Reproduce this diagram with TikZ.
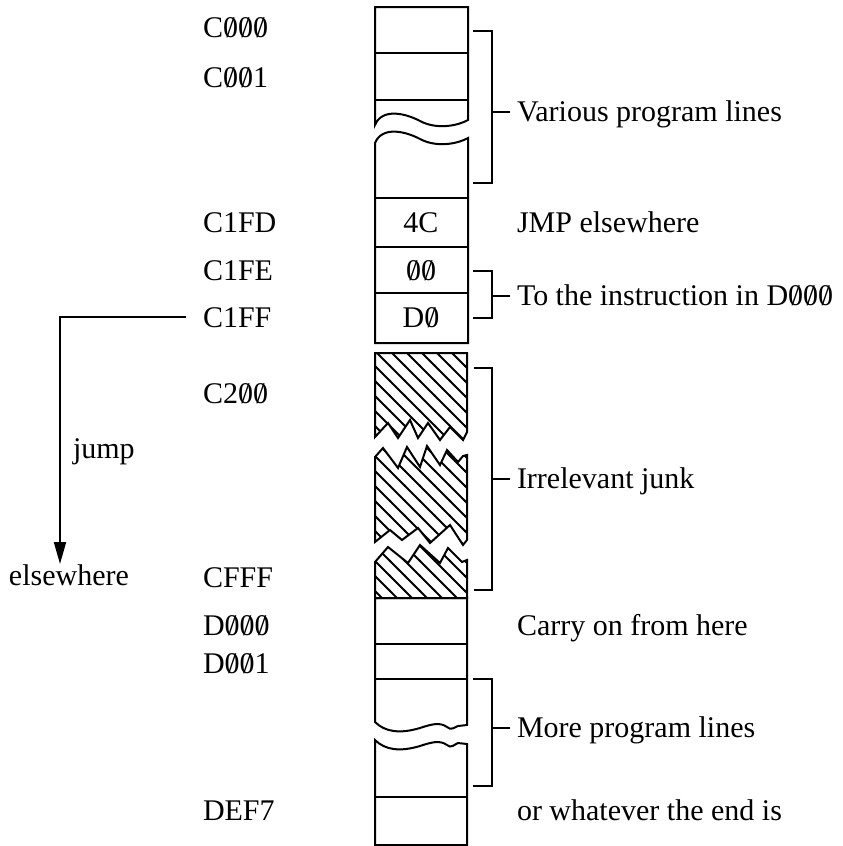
\documentclass[tikz,border=0pt]{standalone}
\usepackage{fontspec}
\setmainfont{Liberation Serif}
\usetikzlibrary{arrows.meta,positioning,patterns.meta}

\newcommand{\sz}{\ooalign{0\cr\hidewidth/\hidewidth\cr}}

\tikzdeclarepattern{
  name=junklines,
  type=uncolored,
  bounding box={(-.5pt,-.5pt) and (8pt,8pt)},
  tile size={(7.5pt,7.5pt)},
  code={\draw[line width=1pt] (-.5pt,8pt) -- (8pt,-.5pt);}
}

\begin{document}
\begin{tikzpicture}[x=0.5pt, y=-0.5pt, line width=1pt,
    addr/.style={anchor=base west, inner sep=0pt, font=\fontsize{15}{18}\selectfont},
    note/.style={addr},
    byte/.style={anchor=base, inner sep=0pt, font=\fontsize{15}{18}\selectfont},
    stub/.style={shorten >=3pt}]
    \useasboundingbox (0,0) rectangle (842,846);

    % First program block, broken by a wavy gap
    \draw (375,125) -- (375,7) -- (468,7) -- (468,120)
        .. controls (455,127) and (435,129) .. (420,121)
        .. controls (405,113) and (382,108) .. cycle;
    \draw (375,53) -- (468,53);
    \draw (375,100) -- (468,100);
    \draw (375,143) -- (375,343) -- (468,343) -- (468,138)
        .. controls (455,145) and (435,147) .. (420,139)
        .. controls (405,131) and (382,126) .. cycle;
    \draw (375,198) -- (468,198);
    \draw (375,247) -- (468,247);
    \draw (375,293) -- (468,293);

    % Hatched junk in three pieces
    \draw[pattern=junklines] (375,353) -- (467,353) -- (467,432) -- (463,440) -- (450,427)
        -- (440,440) -- (428,423) -- (418,438) -- (410,420) -- (398,438)
        -- (388,423) -- (375,437) -- cycle;
    \draw[pattern=junklines] (375,457) -- (383,448) -- (398,468) -- (407,447) -- (420,467)
        -- (427,446) -- (440,465) -- (447,450) -- (458,462) -- (463,456)
        -- (467,455) -- (467,540) -- (463,545) -- (450,525) -- (430,543)
        -- (418,528) -- (402,540) -- (390,530) -- (375,542) -- cycle;
    \draw[pattern=junklines] (375,562) -- (388,547) -- (408,563) -- (420,545) -- (440,563)
        -- (448,548) -- (462,562) -- (467,560) -- (467,598) -- (375,598) -- cycle;

    % Second program block
    \draw (375,722) -- (375,598) -- (467,598) -- (467,725) -- (458,726)
        .. controls (455,727) and (451,731) .. (447,727)
        .. controls (440,722) and (432,724) .. (420,728)
        .. controls (400,734) and (385,732) .. cycle;
    \draw (375,644) -- (467,644);
    \draw (375,679) -- (467,679);
    \draw (375,740) -- (375,845) -- (467,845) -- (467,744) -- (458,743)
        .. controls (455,744) and (451,749) .. (447,745)
        .. controls (440,740) and (432,742) .. (420,746)
        .. controls (400,752) and (385,750) .. cycle;
    \draw (375,797) -- (467,797);

    % Bytes in the cells
    \node[byte] (b4c) at (421,232) {4C};
    \node[byte] (b00) at (421,280) {\sz\sz};
    \node[byte] (bd0) at (421,327) {D\sz};

    % Addresses
    \node[addr] (c000) at (202,37) {C\sz\sz\sz};
    \node[addr] (c001) at (202,87) {C\sz\sz1};
    \node[addr] (c1fd) at (202,232) {C1FD};
    \node[addr] (c1fe) at (202,280) {C1FE};
    \node[addr] (c1ff) at (202,327) {C1FF};
    \node[addr] (c200) at (202,403) {C2\sz\sz};
    \node[addr] (cfff) at (202,587) {CFFF};
    \node[addr] (d000) at (202,635) {D\sz\sz\sz};
    \node[addr] (d001) at (202,673) {D\sz\sz1};
    \node[addr] (def7) at (202,820) {DEF7};

    % Jump away
    \node[addr] (jump) at (72,458) {jump};
    \node[addr] (away) at (8,585) {elsewhere};
    \coordinate (tip) at (60,564);
    \draw[-{Triangle[length=11pt,width=6pt]}, shorten <=8pt] (c1ff.west) -| (tip);

    % Notes on the right
    \node[note] (vpl) at (516,121) {Various program lines};
    \node[note] (jmp) at (516,232) {JMP elsewhere};
    \node[note] (toins) at (516,305) {To the instruction in D\sz\sz\sz};
    \node[note] (junk) at (516,488) {Irrelevant junk};
    \node[note] (carry) at (516,635) {Carry on from here};
    \node[note] (more) at (516,737) {More program lines};
    \node[note] (endn) at (516,820) {or whatever the end is};

    % Brackets
    \coordinate (m1) at (492,112);
    \draw (473,31) -| (492,183) -- (473,183);
    \draw[stub] (m1) -- (m1 -| vpl.west);
    \coordinate (m2) at (492,296);
    \draw (473,271) -| (492,318) -- (473,318);
    \draw[stub] (m2) -- (m2 -| toins.west);
    \coordinate (m3) at (492,479);
    \draw (474,368) -| (492,590) -- (474,590);
    \draw[stub] (m3) -- (m3 -| junk.west);
    \coordinate (m4) at (492,728);
    \draw (473,679) -| (492,786) -- (473,786);
    \draw[stub] (m4) -- (m4 -| more.west);
\end{tikzpicture}
\end{document}
